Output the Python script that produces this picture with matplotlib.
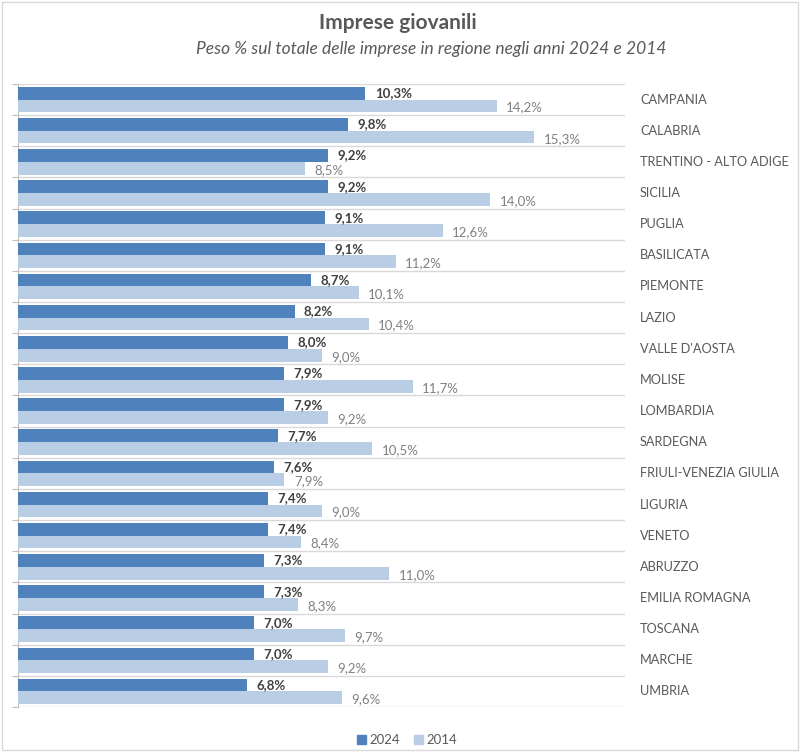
import matplotlib
matplotlib.use("Agg")
import matplotlib.pyplot as plt
import matplotlib.transforms as mtransforms
from matplotlib.patches import Rectangle, Patch

plt.rcParams['font.family'] = ['Lato', 'DejaVu Sans']

regions = ["CAMPANIA", "CALABRIA", "TRENTINO - ALTO ADIGE", "SICILIA", "PUGLIA",
           "BASILICATA", "PIEMONTE", "LAZIO", "VALLE D'AOSTA", "MOLISE",
           "LOMBARDIA", "SARDEGNA", "FRIULI-VENEZIA GIULIA", "LIGURIA", "VENETO",
           "ABRUZZO", "EMILIA ROMAGNA", "TOSCANA", "MARCHE", "UMBRIA"]
v2024 = [10.3, 9.8, 9.2, 9.2, 9.1, 9.1, 8.7, 8.2, 8.0, 7.9,
         7.9, 7.7, 7.6, 7.4, 7.4, 7.3, 7.3, 7.0, 7.0, 6.8]
v2014 = [14.2, 15.3, 8.5, 14.0, 12.6, 11.2, 10.1, 10.4, 9.0, 11.7,
         9.2, 10.5, 7.9, 9.0, 8.4, 11.0, 8.3, 9.7, 9.2, 9.6]
series_names = ["2024", "2014"]

c_dark = "#4F81BD"
c_light = "#B9CDE5"

fig = plt.figure(figsize=(8, 7.52), dpi=100)
ax = fig.add_axes([18/800, 1-707/752, (625-18)/800, (707-84)/752])

n = len(regions)
ys = list(range(n))
h = 0.41
ax.barh([y - h/2 for y in ys], v2024, height=h, color=c_dark, zorder=3)
ax.barh([y + h/2 for y in ys], v2014, height=h, color=c_light, zorder=3)

ax.set_xlim(0, 18)
ax.set_ylim(n - 0.5, -0.5)

for i in range(n + 1):
    ax.axhline(i - 0.5, color="#D9D9D9", lw=1, zorder=1)

for y, a, b in zip(ys, v2024, v2014):
    ax.text(a + 0.28, y - h/2, f"{a:.1f}%".replace('.', ','), va="center", ha="left",
            fontsize=9.5, fontweight="bold", color="#404040")
    ax.text(b + 0.28, y + h/2 + 0.05, f"{b:.1f}%".replace('.', ','), va="center", ha="left",
            fontsize=9.5, color="#808080")

trans = mtransforms.blended_transform_factory(ax.transAxes, ax.transData)
for y, r in zip(ys, regions):
    ax.text((640-18)/607, y, r, transform=trans, va="center", ha="left",
            fontsize=9.2, color="#595959")

ax.set_xticks([])
ax.set_yticks([i - 0.5 for i in range(n + 1)])
ax.set_yticklabels([])
ax.tick_params(axis='y', length=4, color="#BFBFBF", direction="out")
for s in ["top", "right", "bottom"]:
    ax.spines[s].set_visible(False)
ax.spines["left"].set_color("#BFBFBF")

fig.text(398/800, 1-23/752, "Imprese giovanili", ha="center", va="center",
         fontsize=15, fontweight="bold", color="#595959")
fig.text(431/800, 1-49/752, "Peso % sul totale delle imprese in regione negli anni 2024 e 2014",
         ha="center", va="center", fontsize=12.5, style="italic", color="#595959")

handles = [Patch(color=c_dark), Patch(color=c_light)]
fig.legend(handles, series_names, loc="center", bbox_to_anchor=(407/800, 1-740/752),
           ncol=2, frameon=False, fontsize=9.5, handlelength=0.7, handleheight=0.7,
           handletextpad=0.3, columnspacing=1.0, labelcolor="#595959")

fig.patches.append(Rectangle((0.002, 0.002), 0.996, 0.996, transform=fig.transFigure,
                             fill=False, edgecolor="#D9D9D9", lw=1))

fig.savefig("out.png", dpi=100)
